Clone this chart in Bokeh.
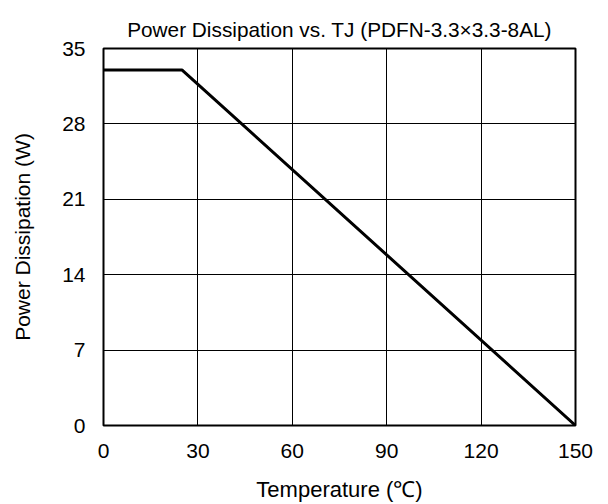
from bokeh.plotting import figure
from bokeh.models import Range1d, FixedTicker
from bokeh.embed import file_html
from bokeh.resources import INLINE

# data
temperature = [0, 25, 150]
power = [33, 33, 0]
x_ticks = [0, 30, 60, 90, 120, 150]
y_ticks = [0, 7, 14, 21, 28, 35]
title_text = "Power Dissipation vs. TJ (PDFN-3.3×3.3-8AL)"
x_label = "Temperature (℃)"
y_label = "Power Dissipation (W)"

FONT = "Liberation Sans"

p = figure(width=608, height=504, output_backend="svg", toolbar_location=None,
           x_range=Range1d(0, 150), y_range=Range1d(0, 35),
           min_border_left=103, min_border_right=33, min_border_top=48,
           min_border_bottom=78)

p.line(temperature, power, line_color="black", line_width=3)

p.outline_line_color = "black"
p.outline_line_width = 2
p.outline_line_alpha = 1

for ax, ticks in ((p.xaxis[0], x_ticks), (p.yaxis[0], y_ticks)):
    ax.ticker = FixedTicker(ticks=ticks)
    ax.axis_line_color = None
    ax.major_tick_line_color = None
    ax.minor_tick_line_color = None
    ax.major_tick_out = 0
    ax.major_tick_in = 0
    ax.minor_tick_out = 0
    ax.major_label_text_font = FONT
    ax.major_label_text_font_size = "21px"
    ax.major_label_text_color = "black"
    ax.axis_label_text_font = FONT
    ax.axis_label_text_font_style = "normal"
    ax.axis_label_text_color = "black"

p.xaxis.axis_label = x_label
p.yaxis.axis_label = y_label
p.xaxis.axis_label_text_font_size = "22px"
p.yaxis.axis_label_text_font_size = "21px"
p.xaxis.major_label_standoff = 18
p.yaxis.major_label_standoff = 18
p.xaxis.axis_label_standoff = 16
p.yaxis.axis_label_standoff = 25

p.xgrid.ticker = FixedTicker(ticks=x_ticks)
p.ygrid.ticker = FixedTicker(ticks=y_ticks)
for g in (p.xgrid[0], p.ygrid[0]):
    g.grid_line_color = "black"
    g.grid_line_width = 1
    g.grid_line_alpha = 1

p.title.text = title_text
p.title.align = "center"
p.title.vertical_align = "top"
p.title.text_font = FONT
p.title.text_font_size = "20.8px"
p.title.text_font_style = "normal"
p.title.text_color = "black"
p.title.standoff = 12

p.background_fill_color = "white"
p.border_fill_color = "white"

open("out.html", "w").write(file_html(p, INLINE))
